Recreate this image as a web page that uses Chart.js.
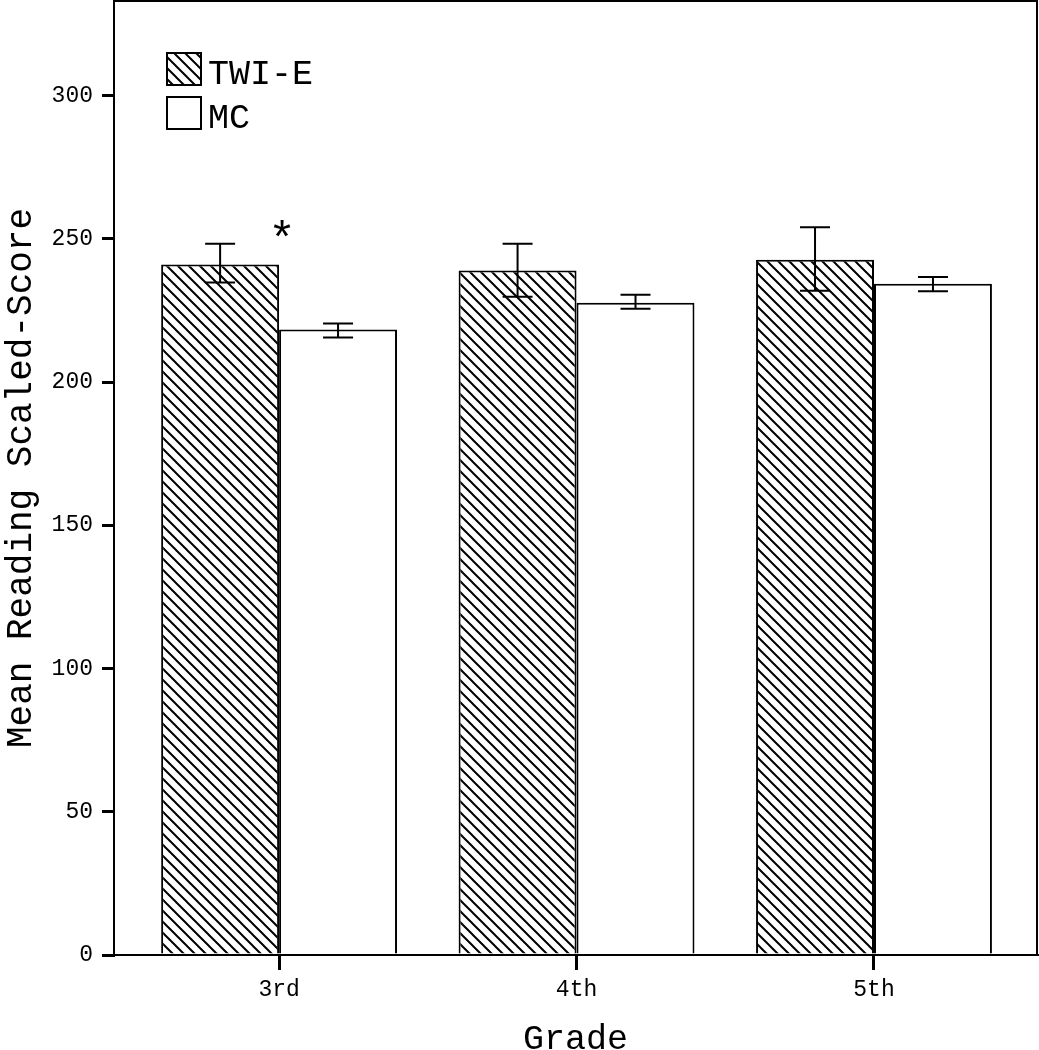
<!DOCTYPE html>
<html>
<head>
<meta charset="utf-8">
<script src="https://cdn.jsdelivr.net/npm/chart.js@4/dist/chart.umd.min.js"></script>
<style>
  body { margin: 0; background: #fff; }
  #wrap { width: 1039px; height: 1050px; }
</style>
</head>
<body>
<div id="wrap"><canvas id="chart" width="1039" height="1050"></canvas></div>
<script>
// data
const grades = ['3rd', '4th', '5th'];
const seriesNames = ['TWI-E', 'MC'];
const twiMeans = [241.0, 238.9, 242.7];
const twiLow = [234.7, 229.8, 231.9];
const twiHigh = [248.3, 248.3, 254.0];
const mcMeans = [218.3, 227.7, 234.3];
const mcLow = [215.5, 225.6, 231.7];
const mcHigh = [220.4, 230.5, 236.7];
const yTicks = [0, 50, 100, 150, 200, 250, 300];
const starMark = { grade: 0, value: 253, text: '*' };

const MONO = '"Liberation Mono", "DejaVu Sans Mono", monospace';

// diagonal hatch pattern (\\\)
function makeHatch() {
  const s = 11;
  const c = document.createElement('canvas');
  c.width = s; c.height = s;
  const g = c.getContext('2d');
  g.fillStyle = '#fff';
  g.fillRect(0, 0, s, s);
  g.strokeStyle = '#000';
  g.lineWidth = 2;
  g.beginPath();
  g.moveTo(-1, -1); g.lineTo(s + 1, s + 1);
  g.moveTo(-1, s - 1); g.lineTo(1, s + 1);
  g.moveTo(s - 1, -1); g.lineTo(s + 1, 1);
  g.stroke();
  return g.createPattern(c, 'repeat');
}
const hatch = makeHatch();

const errLow = [twiLow, mcLow];
const errHigh = [twiHigh, mcHigh];

const frameAndExtras = {
  id: 'frameAndExtras',
  afterDatasetsDraw(chart) {
    const ctx = chart.ctx;
    const a = chart.chartArea;
    const y = chart.scales.y;
    const x = chart.scales.x;
    ctx.save();
    ctx.strokeStyle = '#000';
    ctx.lineWidth = 2;
    // error bars
    chart.data.datasets.forEach((ds, i) => {
      const meta = chart.getDatasetMeta(i);
      meta.data.forEach((bar, j) => {
        const top = y.getPixelForValue(errHigh[i][j]);
        const bot = y.getPixelForValue(errLow[i][j]);
        const w = 15;
        ctx.beginPath();
        ctx.moveTo(bar.x, top); ctx.lineTo(bar.x, bot);
        ctx.moveTo(bar.x - w, top); ctx.lineTo(bar.x + w, top);
        ctx.moveTo(bar.x - w, bot); ctx.lineTo(bar.x + w, bot);
        ctx.stroke();
      });
    });
    // frame
    ctx.strokeRect(a.left, a.top, a.right - a.left, a.bottom - a.top);
    // significance mark
    ctx.fillStyle = '#000';
    ctx.font = '46px ' + MONO;
    ctx.textAlign = 'center';
    ctx.textBaseline = 'middle';
    ctx.fillText(starMark.text, x.getPixelForValue(starMark.grade + 1) + 3, y.getPixelForValue(starMark.value) + 12);
    // legend
    const fills = [hatch, '#fff'];
    ctx.font = '35px ' + MONO;
    ctx.textAlign = 'left';
    ctx.textBaseline = 'alphabetic';
    seriesNames.forEach((name, i) => {
      const bx = 167, by = 53 + i * 44;
      ctx.fillStyle = fills[i];
      ctx.fillRect(bx, by, 34, 32);
      ctx.strokeRect(bx, by, 34, 32);
      ctx.fillStyle = '#000';
      ctx.fillText(name, 208, by + 31);
    });
    ctx.restore();
  }
};

new Chart(document.getElementById('chart'), {
  type: 'bar',
  data: {
    datasets: [
      {
        label: seriesNames[0],
        data: twiMeans.map((v, i) => ({ x: i + 1, y: v })),
        backgroundColor: hatch,
        borderColor: '#000',
        borderWidth: 2
      },
      {
        label: seriesNames[1],
        data: mcMeans.map((v, i) => ({ x: i + 1, y: v })),
        backgroundColor: '#fff',
        borderColor: '#000',
        borderWidth: 2
      }
    ]
  },
  options: {
    responsive: false,
    animation: false,
    categoryPercentage: 0.793,
    barPercentage: 1.0,
    layout: { padding: { top: 1, right: 2, left: 0, bottom: 0 } },
    plugins: {
      legend: { display: false },
      tooltip: { enabled: false }
    },
    scales: {
      x: {
        type: 'linear',
        offset: false,
        min: 0.445,
        max: 3.548,
        afterBuildTicks: (s) => { s.ticks = grades.map((g, i) => ({ value: i + 1 })); },
        afterFit: (s) => { s.height = 95; s.paddingLeft = 0; s.paddingRight = 0; },
        grid: { offset: false, drawOnChartArea: false, drawTicks: true, tickLength: 15, color: '#000', lineWidth: 3 },
        border: { display: true, color: '#000', width: 2 },
        ticks: {
          autoSkip: false,
          maxRotation: 0,
          padding: 6,
          color: '#000',
          font: { family: MONO, size: 23 },
          callback: (v) => grades[Math.round(v) - 1]
        },
        title: {
          display: true,
          text: 'Grade',
          color: '#000',
          font: { family: MONO, size: 35, lineHeight: 0.6 },
          padding: { top: 0, bottom: 0 }
        }
      },
      y: {
        min: 0,
        max: 333,
        afterBuildTicks: (s) => { s.ticks = yTicks.map(v => ({ value: v })); },
        afterFit: (s) => { s.width = 114; s.paddingTop = 0; s.paddingBottom = 0; },
        grid: { drawOnChartArea: false, drawTicks: true, tickLength: 12, color: '#000', lineWidth: 3 },
        border: { display: true, color: '#000', width: 2 },
        ticks: {
          padding: 9,
          color: '#000',
          font: { family: MONO, size: 23 }
        },
        title: {
          display: true,
          text: 'Mean Reading Scaled-Score',
          color: '#000',
          font: { family: MONO, size: 36 },
          padding: { top: 0, bottom: 0 }
        }
      }
    }
  },
  plugins: [frameAndExtras]
});
</script>
</body>
</html>
